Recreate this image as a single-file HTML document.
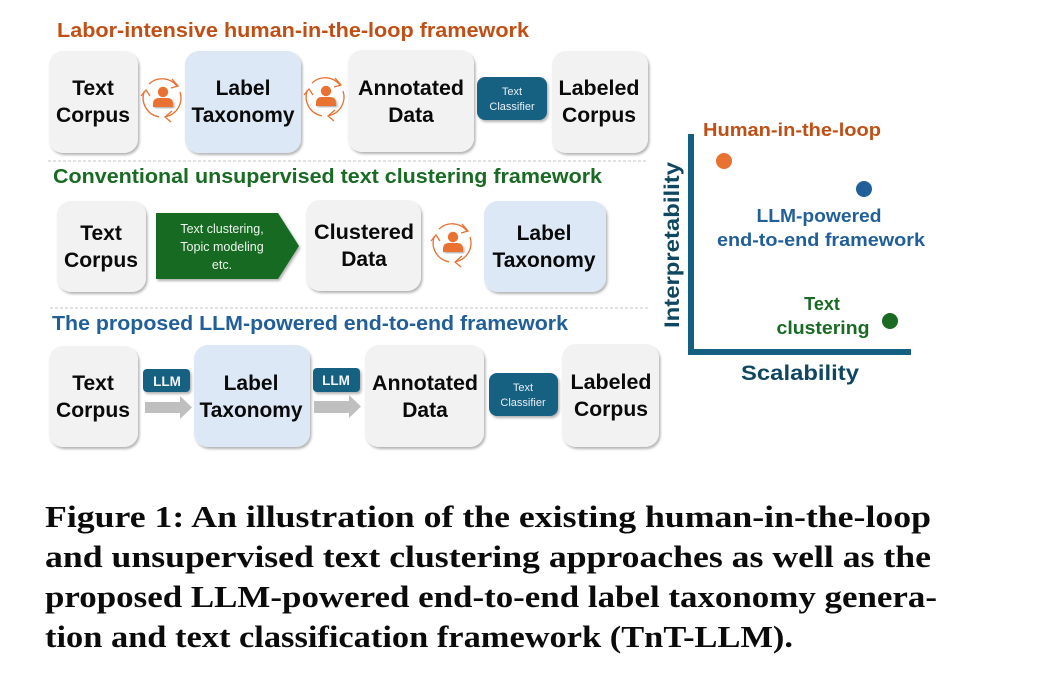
<!DOCTYPE html>
<html><head><meta charset="utf-8"><style>
html,body{margin:0;padding:0;background:#fff;width:1050px;height:678px;overflow:hidden}
svg{display:block}
text{font-family:"Liberation Sans",sans-serif}
.b{font-weight:700;font-size:21px;fill:#0a0a0a;text-anchor:middle}
.t{font-weight:700;font-size:20px}
.w{fill:#e8f0f5;font-size:11px;text-anchor:middle}
.c{font-family:"Liberation Serif",serif;font-weight:700;font-size:31px;fill:#0b0b0b}
</style></head><body>
<svg width="1050" height="678" viewBox="0 0 1050 678" xmlns="http://www.w3.org/2000/svg">
<defs>
<filter id="s" x="-15%" y="-15%" width="130%" height="130%"><feDropShadow dx="1.5" dy="2" stdDeviation="1.2" flood-color="#000" flood-opacity=".3"/></filter>
<g id="loop">
<g fill="none" stroke="#e97132" stroke-width="1.3">
<path d="M-17.5,-7 A19,19 0 0 0 -3,18.8"/><path d="M-13,-14 A19,19 0 0 1 15,-12"/><path d="M18,-6 A19,19 0 0 1 4,18.6"/>
<path d="M-21,-2 L-16,-8 L-12,-2"/><path d="M10,-19 L16,-12 L9,-10"/><path d="M10,13 L3,19 L9,24"/>
</g>
<circle cx="1" cy="-6" r="5.2" fill="#e97132"/>
<path d="M-9,9 V6 Q-9,0 -3,0 H5 Q11,0 11,6 V9 Z" fill="#e97132" filter="url(#s)"/>
</g>
</defs>

<text class="t" x="57" y="37" fill="#c04f15" textLength="472" lengthAdjust="spacingAndGlyphs">Labor-intensive human-in-the-loop framework</text>
<text class="t" x="53" y="183" fill="#196b24" textLength="549" lengthAdjust="spacingAndGlyphs">Conventional unsupervised text clustering framework</text>
<text class="t" x="52" y="330" fill="#215f9a" textLength="516" lengthAdjust="spacingAndGlyphs">The proposed LLM-powered end-to-end framework</text>

<line x1="48" y1="161" x2="648" y2="161" stroke="#c4c4c4" stroke-dasharray="3 2"/>
<line x1="50" y1="308" x2="650" y2="308" stroke="#c4c4c4" stroke-dasharray="3 2"/>

<g filter="url(#s)">
<rect x="49" y="51" width="89" height="102" rx="14" fill="#f2f2f2"/>
<rect x="185" y="51" width="116" height="102" rx="14" fill="#dce8f6"/>
<rect x="348" y="50" width="126" height="102" rx="14" fill="#f2f2f2"/>
<rect x="552" y="51" width="96" height="102" rx="14" fill="#f2f2f2"/>
<rect x="477" y="77" width="70" height="43" rx="8" fill="#156082"/>

<rect x="57" y="201" width="89" height="91" rx="14" fill="#f2f2f2"/>
<rect x="306" y="200" width="115" height="91" rx="14" fill="#f2f2f2"/>
<rect x="484" y="201" width="122" height="91" rx="14" fill="#dce8f6"/>

<rect x="49" y="346" width="89" height="101" rx="14" fill="#f2f2f2"/>
<rect x="194" y="345" width="116" height="102" rx="14" fill="#dce8f6"/>
<rect x="365" y="345" width="119" height="102" rx="14" fill="#f2f2f2"/>
<rect x="562" y="344" width="97" height="103" rx="14" fill="#f2f2f2"/>
<rect x="489" y="373" width="69" height="43" rx="8" fill="#156082"/>
<rect x="143" y="369" width="47" height="23" rx="4" fill="#156082"/>
<rect x="313" y="368" width="47" height="24" rx="4" fill="#156082"/>
</g>

<g class="lbl">
<text class="b" x="93" y="95">Text</text><text class="b" x="93" y="122" textLength="74" lengthAdjust="spacingAndGlyphs">Corpus</text>
<text class="b" x="243" y="95">Label</text><text class="b" x="243" y="122" textLength="103" lengthAdjust="spacingAndGlyphs">Taxonomy</text>
<text class="b" x="411" y="95" textLength="106" lengthAdjust="spacingAndGlyphs">Annotated</text><text class="b" x="411" y="122">Data</text>
<text class="b" x="599" y="95" textLength="81" lengthAdjust="spacingAndGlyphs">Labeled</text><text class="b" x="599" y="122" textLength="74" lengthAdjust="spacingAndGlyphs">Corpus</text>

<text class="b" x="101" y="240">Text</text><text class="b" x="101" y="267" textLength="74" lengthAdjust="spacingAndGlyphs">Corpus</text>
<text class="b" x="364" y="239" textLength="100" lengthAdjust="spacingAndGlyphs">Clustered</text><text class="b" x="364" y="266">Data</text>
<text class="b" x="544" y="240">Label</text><text class="b" x="544" y="267" textLength="103" lengthAdjust="spacingAndGlyphs">Taxonomy</text>

<text class="b" x="93" y="390">Text</text><text class="b" x="93" y="417" textLength="74" lengthAdjust="spacingAndGlyphs">Corpus</text>
<text class="b" x="251" y="390">Label</text><text class="b" x="251" y="417" textLength="103" lengthAdjust="spacingAndGlyphs">Taxonomy</text>
<text class="b" x="425" y="390" textLength="106" lengthAdjust="spacingAndGlyphs">Annotated</text><text class="b" x="425" y="417">Data</text>
<text class="b" x="611" y="389" textLength="81" lengthAdjust="spacingAndGlyphs">Labeled</text><text class="b" x="611" y="416" textLength="74" lengthAdjust="spacingAndGlyphs">Corpus</text>
</g>

<text class="w" x="512" y="95">Text</text><text class="w" x="512" y="110">Classifier</text>
<text class="w" x="523" y="391">Text</text><text class="w" x="523" y="406">Classifier</text>
<text x="167" y="386" fill="#f2f6f8" font-size="13.5" font-weight="700" text-anchor="middle">LLM</text>
<text x="336" y="385" fill="#f2f6f8" font-size="13.5" font-weight="700" text-anchor="middle">LLM</text>

<polygon points="156,213 278,213 299,246 278,279 156,279" fill="#196b24" filter="url(#s)"/>
<g fill="#eef5ee" font-size="12.5" text-anchor="middle">
<text x="222" y="233">Text clustering,</text><text x="222" y="251">Topic modeling</text><text x="222" y="269">etc.</text>
</g>

<polygon points="145,402 180,402 180,396 192,407.5 180,419 180,413 145,413" fill="#bfbfbf"/>
<polygon points="314,401 349,401 349,395 361,406.5 349,418 349,413 314,413" fill="#bfbfbf"/>

<use href="#loop" x="162" y="98"/>
<use href="#loop" x="325" y="97"/>
<use href="#loop" x="452" y="243"/>

<rect x="688" y="134" width="6" height="221" fill="#156082"/>
<rect x="688" y="349" width="223" height="6" fill="#156082"/>
<circle cx="724" cy="161" r="8" fill="#e97132"/>
<circle cx="864" cy="189" r="8" fill="#215f9a"/>
<circle cx="890" cy="321" r="8" fill="#196b24"/>
<text class="t" x="703" y="136" style="font-size:18px" fill="#c04f15" textLength="178" lengthAdjust="spacingAndGlyphs">Human-in-the-loop</text>
<text class="t" x="819" y="222" text-anchor="middle" style="font-size:18px" fill="#215f9a" textLength="125" lengthAdjust="spacingAndGlyphs">LLM-powered</text>
<text class="t" x="821" y="246" text-anchor="middle" style="font-size:18px" fill="#215f9a" textLength="208" lengthAdjust="spacingAndGlyphs">end-to-end framework</text>
<text class="t" x="822" y="310" text-anchor="middle" style="font-size:18px" fill="#196b24">Text</text>
<text class="t" x="823" y="334" text-anchor="middle" style="font-size:18px" fill="#196b24" textLength="93" lengthAdjust="spacingAndGlyphs">clustering</text>
<text class="t" x="800" y="380" text-anchor="middle" style="font-size:21px" fill="#0f4761" textLength="118" lengthAdjust="spacingAndGlyphs">Scalability</text>
<text class="t" transform="translate(679,328) rotate(-90)" style="font-size:21px" fill="#0f4761" textLength="166" lengthAdjust="spacingAndGlyphs">Interpretability</text>

<text class="c" x="45" y="527" textLength="886" lengthAdjust="spacingAndGlyphs">Figure 1: An illustration of the existing human-in-the-loop</text>
<text class="c" x="45" y="567" textLength="886" lengthAdjust="spacingAndGlyphs">and unsupervised text clustering approaches as well as the</text>
<text class="c" x="45" y="607" textLength="892" lengthAdjust="spacingAndGlyphs">proposed LLM-powered end-to-end label taxonomy genera-</text>
<text class="c" x="45" y="647" textLength="748" lengthAdjust="spacingAndGlyphs">tion and text classification framework (TnT-LLM).</text>
</svg>
</body></html>
